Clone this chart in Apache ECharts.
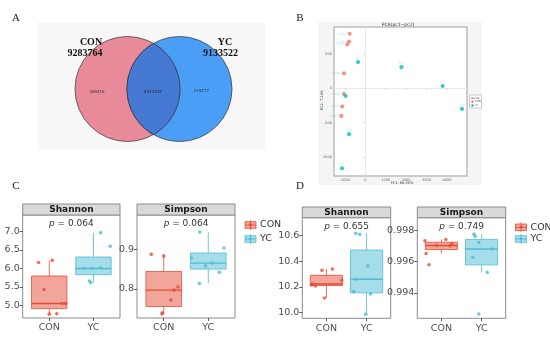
<!DOCTYPE html>
<html><head><meta charset="utf-8">
<script src="https://cdn.jsdelivr.net/npm/echarts@6/dist/echarts.min.js"></script>
<style>html,body{margin:0;padding:0;background:#fff}#c{width:550px;height:342px}</style>
</head><body><div id="c"></div><script>
// ---------------- DATA ----------------
const groups = ['CON', 'YC'];
const vennTotals = [9283764, 9133522];
const vennShared = 8914345;

const pcaConX = [-766, -795, -878, -1039, -1039, -1122, -1171];
const pcaConY = [793, 677, 638, 217, -83, -265, -401];
const pcaYcX = [-356, 1771, 3790, 4732, -961, -795, -1137];
const pcaYcY = [381, 309, 33, -300, -112, -667, -1164];
const pcaConNames = ['CON1', 'CON2', 'CON3', 'CON4', 'CON5', 'CON6', 'CON7'];
const pcaYcNames = ['YC1', 'YC2', 'YC3', 'YC4', 'YC5', 'YC6', 'YC7'];
const pcaXTicks = [-1000, 0, 1000, 2000, 3000, 4000];
const pcaYTicks = [-1000, -500, 0, 500];
const pcaTitle = 'PCA(pc1~pc2)';
const pcaAxisNames = ['PC1: 86.55%', 'PC2: 7.24%'];

const facetNames = ['Shannon', 'Simpson'];
// Panel C
const cShannonCon = [6.16, 6.22, 5.43, 5.05, 5.05, 4.76, 4.77];
const cShannonYc = [6.97, 6.60, 6.00, 6.00, 6.02, 5.66, 5.62];
const cSimpsonCon = [0.887, 0.883, 0.805, 0.797, 0.772, 0.740, 0.737];
const cSimpsonYc = [0.943, 0.903, 0.878, 0.858, 0.865, 0.842, 0.814];
const cPValues = ['0.064', '0.064'];
const cShannonTicks = [5.0, 5.5, 6.0, 6.5, 7.0];
const cSimpsonTicks = [0.8, 0.9];
// Panel D
const dShannonCon = [10.215, 10.223, 10.208, 10.330, 10.340, 10.252, 10.114];
const dShannonYc = [10.618, 10.610, 10.366, 10.260, 10.164, 10.145, 9.987];
const dSimpsonCon = [0.99732, 0.99651, 0.99579, 0.99702, 0.99740, 0.99700, 0.99713];
const dSimpsonYc = [0.99774, 0.99760, 0.99721, 0.99626, 0.99679, 0.99530, 0.99264];
const dPValues = ['0.655', '0.749'];
const dShannonTicks = [10.0, 10.2, 10.4, 10.6];
const dSimpsonTicks = [0.994, 0.996, 0.998];

// jitter offsets (x position in category units) of the dots
const cShannonConJit = [0.76, 1.07, 0.88, 1.29, 1.37, 1.00, 1.17];
const cShannonYcJit = [2.16, 2.38, 1.79, 1.96, 2.16, 1.91, 1.94];
const cSimpsonConJit = [0.72, 1.00, 1.32, 1.23, 1.16, 0.97, 0.96];
const cSimpsonYcJit = [1.81, 2.35, 1.62, 1.94, 2.09, 2.25, 1.80];
const dShannonConJit = [0.63, 0.65, 0.73, 0.89, 1.15, 1.38, 0.95];
const dShannonYcJit = [1.73, 1.83, 2.03, 1.72, 1.68, 2.10, 1.98];
const dSimpsonConJit = [0.59, 0.62, 0.69, 0.88, 1.11, 1.21, 1.26];
const dSimpsonYcJit = [1.81, 1.84, 1.93, 1.78, 2.25, 2.14, 1.93];

// ---------------- STYLE ----------------
const boxColors = ['#E64B35', '#4DBBD5'];
const boxFills = ['rgba(230,75,53,0.5)', 'rgba(77,187,213,0.5)'];
const pcaColors = ['#F8766D', '#00BFC4'];
const FONT = 'DejaVu Sans';

function quant(sorted, p) {
  const h = (sorted.length - 1) * p, lo = Math.floor(h), hi = Math.ceil(h);
  return sorted[lo] + (sorted[hi] - sorted[lo]) * (h - lo);
}
function boxStats(vals) {
  const s = vals.slice().sort((a, b) => a - b);
  const q1 = quant(s, 0.25), md = quant(s, 0.5), q3 = quant(s, 0.75);
  const iqr = q3 - q1;
  const lo = s.filter(v => v >= q1 - 1.5 * iqr)[0];
  const hiArr = s.filter(v => v <= q3 + 1.5 * iqr);
  const hi = hiArr[hiArr.length - 1];
  return [lo, q1, md, q3, hi];
}

function boxRender(params, api) {
  const gi = params.dataIndex;
  const x = api.value(0);
  const c = boxColors[gi], f = boxFills[gi];
  const pLo = api.coord([x, api.value(1)]), pQ1 = api.coord([x, api.value(2)]);
  const pMd = api.coord([x, api.value(3)]), pQ3 = api.coord([x, api.value(4)]);
  const pHi = api.coord([x, api.value(5)]);
  const w = api.size([0.8, 0])[0];
  return {
    type: 'group', children: [
      { type: 'line', shape: { x1: pHi[0], y1: pHi[1], x2: pQ3[0], y2: pQ3[1] }, style: { stroke: c, lineWidth: 0.8 } },
      { type: 'line', shape: { x1: pQ1[0], y1: pQ1[1], x2: pLo[0], y2: pLo[1] }, style: { stroke: c, lineWidth: 0.8 } },
      { type: 'rect', shape: { x: pQ3[0] - w / 2, y: pQ3[1], width: w, height: pQ1[1] - pQ3[1] }, style: { fill: f, stroke: c, lineWidth: 0.8 } },
      { type: 'line', shape: { x1: pMd[0] - w / 2, y1: pMd[1], x2: pMd[0] + w / 2, y2: pMd[1] }, style: { stroke: c, lineWidth: 1.4 } }
    ]
  };
}

// panels: [left, top, width, height]
const panels = [
  { rect: [22.7, 215, 97.3, 103], con: cShannonCon, yc: cShannonYc, cj: cShannonConJit, yj: cShannonYcJit, ticks: cShannonTicks, min: 4.655, max: 7.45, dec: 1, p: cPValues[0], name: facetNames[0], strip: 11 },
  { rect: [137, 215, 98, 103], con: cSimpsonCon, yc: cSimpsonYc, cj: cSimpsonConJit, yj: cSimpsonYcJit, ticks: cSimpsonTicks, min: 0.727, max: 0.986, dec: 1, p: cPValues[1], name: facetNames[1], strip: 11 },
  { rect: [302.3, 217.7, 88.4, 100.6], con: dShannonCon, yc: dShannonYc, cj: dShannonConJit, yj: dShannonYcJit, ticks: dShannonTicks, min: 9.956, max: 10.74, dec: 1, p: dPValues[0], name: facetNames[0], strip: 10.7 },
  { rect: [417.3, 217.7, 88.4, 100.6], con: dSimpsonCon, yc: dSimpsonYc, cj: dSimpsonConJit, yj: dSimpsonYcJit, ticks: dSimpsonTicks, min: 0.99237, max: 0.99879, dec: 3, p: dPValues[1], name: facetNames[1], strip: 10.7 }
];

const grids = [{ left: 334, top: 27, width: 133, height: 149, show: true, backgroundColor: '#fff', borderColor: '#BDBDBD', borderWidth: 1.5 }];
const xAxes = [{
  gridIndex: 0, type: 'value', min: -1530, max: 4980,
  axisLine: { show: false }, splitLine: { show: false },
  axisTick: { show: true, customValues: pcaXTicks, length: 1.5, lineStyle: { color: '#999', width: 0.5 } },
  axisLabel: { customValues: pcaXTicks, formatter: v => String(v), fontSize: 3.5, color: '#666', margin: 2, fontFamily: FONT }
}];
const yAxes = [{
  gridIndex: 0, type: 'value', min: -1275, max: 891,
  axisLine: { show: false }, splitLine: { show: false },
  axisTick: { show: true, customValues: pcaYTicks, length: 1.5, lineStyle: { color: '#999', width: 0.5 } },
  axisLabel: { customValues: pcaYTicks, formatter: v => String(v), fontSize: 3.5, color: '#666', margin: 2, fontFamily: FONT }
}];
const series = [
  {
    type: 'scatter', xAxisIndex: 0, yAxisIndex: 0, symbolSize: 4.2, itemStyle: { color: pcaColors[0] },
    data: pcaConX.map((x, i) => ({ value: [x, pcaConY[i]], name: pcaConNames[i] })),
    label: { show: true, formatter: '{b}', position: 'left', distance: 1, fontSize: 3, color: 'rgba(0,191,196,0.45)', fontFamily: FONT },
    markLine: {
      silent: true, symbol: 'none', label: { show: false }, lineStyle: { color: '#E3E3E3', width: 0.8, type: 'solid' },
      data: [{ xAxis: 0 }, { yAxis: 0 }]
    }, z: 3
  },
  {
    type: 'scatter', xAxisIndex: 0, yAxisIndex: 0, symbolSize: 4.2, itemStyle: { color: pcaColors[1] },
    data: pcaYcX.map((x, i) => ({ value: [x, pcaYcY[i]], name: pcaYcNames[i] })),
    label: { show: true, formatter: '{b}', position: 'top', distance: 0.5, fontSize: 3, color: 'rgba(0,191,196,0.45)', fontFamily: FONT }, z: 3
  }
];

const graphics = [];
// figure backgrounds
graphics.push({ type: 'rect', shape: { x: 38, y: 22, width: 227, height: 128 }, style: { fill: '#F7F7F7' }, z: -10 });
graphics.push({ type: 'rect', shape: { x: 318, y: 22, width: 164, height: 163 }, style: { fill: '#F5F5F5' }, z: -10 });

panels.forEach((pn, k) => {
  const gi = k + 1;
  const [l, t, w, h] = pn.rect;
  grids.push({ left: l, top: t, width: w, height: h, show: true, backgroundColor: '#fff', borderColor: '#8C8C8C', borderWidth: 1 });
  xAxes.push({
    gridIndex: gi, type: 'value', min: 0.4, max: 2.6,
    axisLine: { show: false }, splitLine: { show: false },
    axisTick: { show: true, customValues: [1, 2], length: 3, lineStyle: { color: '#333', width: 0.8 } },
    axisLabel: { customValues: [1, 2], formatter: v => groups[Math.round(v) - 1], fontSize: 9.5, color: '#4D4D4D', margin: 5, fontFamily: FONT }
  });
  yAxes.push({
    gridIndex: gi, type: 'value', min: pn.min, max: pn.max,
    axisLine: { show: false }, splitLine: { show: false },
    axisTick: { show: true, customValues: pn.ticks, length: 3, lineStyle: { color: '#333', width: 0.8 } },
    axisLabel: { customValues: pn.ticks, formatter: v => v.toFixed(pn.dec), fontSize: 9.5, color: '#4D4D4D', margin: 3, fontFamily: FONT }
  });
  series.push({
    type: 'custom', xAxisIndex: gi, yAxisIndex: gi, renderItem: boxRender, z: 2,
    encode: { x: 0, y: [1, 2, 3, 4, 5] },
    data: [[1].concat(boxStats(pn.con)), [2].concat(boxStats(pn.yc))]
  });
  series.push({
    type: 'scatter', xAxisIndex: gi, yAxisIndex: gi, symbolSize: 3.6, itemStyle: { color: boxColors[0] }, z: 4,
    data: pn.con.map((v, i) => [pn.cj[i], v])
  });
  series.push({
    type: 'scatter', xAxisIndex: gi, yAxisIndex: gi, symbolSize: 3.6, itemStyle: { color: boxColors[1] }, z: 4,
    data: pn.yc.map((v, i) => [pn.yj[i], v])
  });
  // strip
  graphics.push({ type: 'rect', shape: { x: l, y: t - pn.strip, width: w, height: pn.strip }, style: { fill: '#D9D9D9', stroke: '#8C8C8C', lineWidth: 1 } });
  graphics.push({ type: 'text', x: l + w / 2, y: t - pn.strip / 2, style: { text: pn.name, font: 'bold 9px "DejaVu Sans"', fill: '#1A1A1A', align: 'center', verticalAlign: 'middle' } });
  // p value
  graphics.push({
    type: 'text', x: l + w / 2, y: t + 8.5, style: {
      text: '{i|p} = ' + pn.p, font: '9px "DejaVu Sans"', fill: '#333', align: 'center', verticalAlign: 'middle',
      rich: { i: { fontStyle: 'italic', fontSize: 9, fontFamily: FONT, fill: '#333' } }
    }
  });
});

// legends for C and D
function boxLegend(x, yc, gi, label) {
  graphics.push({ type: 'line', shape: { x1: x + 5.5, y1: yc - 5, x2: x + 5.5, y2: yc + 5 }, style: { stroke: boxColors[gi], lineWidth: 0.8 } });
  graphics.push({ type: 'rect', shape: { x: x, y: yc - 3.3, width: 11, height: 6.6 }, style: { fill: boxFills[gi], stroke: boxColors[gi], lineWidth: 0.8 } });
  graphics.push({ type: 'line', shape: { x1: x, y1: yc, x2: x + 11, y2: yc }, style: { stroke: boxColors[gi], lineWidth: 0.8 } });
  graphics.push({ type: 'circle', shape: { cx: x + 5.5, cy: yc, r: 1.4 }, style: { fill: boxColors[gi] } });
  graphics.push({ type: 'text', x: x + 15, y: yc, style: { text: label, font: '9.5px "DejaVu Sans"', fill: '#333', align: 'left', verticalAlign: 'middle' } });
}
boxLegend(245, 225, 0, groups[0]);
boxLegend(245, 239, 1, groups[1]);
boxLegend(515.5, 227.3, 0, groups[0]);
boxLegend(515.5, 239, 1, groups[1]);

// figure letters
[['A', 16, 18], ['B', 300, 18], ['C', 16, 186], ['D', 300, 186]].forEach(a => {
  graphics.push({ type: 'text', x: a[1], y: a[2], style: { text: a[0], font: '11px "Liberation Serif"', fill: '#222', align: 'center', verticalAlign: 'middle' } });
});

// Venn diagram (panel A)
const vc = [[127.5, 89], [179.5, 89]], vr = 52.5;
graphics.push({ type: 'circle', shape: { cx: vc[0][0], cy: vc[0][1], r: vr }, style: { fill: '#E98A9B', stroke: '#444', lineWidth: 0.8 } });
graphics.push({ type: 'circle', shape: { cx: vc[1][0], cy: vc[1][1], r: vr }, style: { fill: '#4A9EF5', stroke: '#444', lineWidth: 0.8 } });
(function () {
  const d = vc[1][0] - vc[0][0];
  const a = Math.acos(d / 2 / vr);
  const pts = [];
  const N = 40;
  for (let i = 0; i <= N; i++) {
    const t = -a + 2 * a * i / N;
    pts.push([vc[0][0] + vr * Math.cos(t), vc[0][1] + vr * Math.sin(t)]);
  }
  for (let i = 0; i <= N; i++) {
    const t = Math.PI - a + 2 * a * i / N;
    pts.push([vc[1][0] + vr * Math.cos(t), vc[1][1] + vr * Math.sin(t)]);
  }
  graphics.push({ type: 'polygon', shape: { points: pts }, style: { fill: '#4679D4', stroke: '#333', lineWidth: 0.8 } });
})();
graphics.push({ type: 'text', x: 91, y: 42, style: { text: groups[0], font: 'bold 10px "Liberation Serif"', fill: '#111', align: 'center', verticalAlign: 'middle' } });
graphics.push({ type: 'text', x: 85, y: 53, style: { text: String(vennTotals[0]), font: 'bold 10px "Liberation Serif"', fill: '#111', align: 'center', verticalAlign: 'middle' } });
graphics.push({ type: 'text', x: 225, y: 42, style: { text: groups[1], font: 'bold 10px "Liberation Serif"', fill: '#111', align: 'center', verticalAlign: 'middle' } });
graphics.push({ type: 'text', x: 220.5, y: 53, style: { text: String(vennTotals[1]), font: 'bold 10px "Liberation Serif"', fill: '#111', align: 'center', verticalAlign: 'middle' } });
graphics.push({ type: 'text', x: 97, y: 92, style: { text: String(vennTotals[0] - vennShared), font: '4px "DejaVu Sans"', fill: '#333', align: 'center', verticalAlign: 'middle' } });
graphics.push({ type: 'text', x: 153, y: 92, style: { text: String(vennShared), font: '4px "DejaVu Sans"', fill: '#222', align: 'center', verticalAlign: 'middle' } });
graphics.push({ type: 'text', x: 201.5, y: 91, style: { text: String(vennTotals[1] - vennShared), font: '4px "DejaVu Sans"', fill: '#333', align: 'center', verticalAlign: 'middle' } });

// PCA decorations
graphics.push({ type: 'text', x: 398, y: 24.5, style: { text: pcaTitle, font: '4.5px "DejaVu Sans"', fill: '#333', align: 'center', verticalAlign: 'middle' } });
graphics.push({ type: 'text', x: 402, y: 183, style: { text: pcaAxisNames[0], font: '3.5px "DejaVu Sans"', fill: '#333', align: 'center', verticalAlign: 'middle' } });
graphics.push({ type: 'text', x: 322, y: 100, rotation: Math.PI / 2, style: { text: pcaAxisNames[1], font: '3.5px "DejaVu Sans"', fill: '#333', align: 'center', verticalAlign: 'middle' } });
graphics.push({ type: 'rect', shape: { x: 469.5, y: 95, width: 12, height: 13 }, style: { fill: '#fff', stroke: '#BDBDBD', lineWidth: 0.8 } });
graphics.push({ type: 'text', x: 471, y: 98, style: { text: 'Group', font: '2.8px "DejaVu Sans"', fill: '#333', align: 'left', verticalAlign: 'middle' } });
[0, 1].forEach(i => {
  graphics.push({ type: 'circle', shape: { cx: 472.5, cy: 101.7 + i * 3.8, r: 1.2 }, style: { fill: pcaColors[i] } });
  graphics.push({ type: 'text', x: 475, y: 101.7 + i * 3.8, style: { text: groups[i], font: '2.6px "DejaVu Sans"', fill: '#555', align: 'left', verticalAlign: 'middle' } });
});

const chart = echarts.init(document.getElementById('c'), null, { renderer: 'canvas' });
chart.setOption({
  animation: false,
  backgroundColor: '#fff',
  textStyle: { fontFamily: FONT },
  grid: grids, xAxis: xAxes, yAxis: yAxes, series: series,
  graphic: { elements: graphics }
});
</script></body></html>
